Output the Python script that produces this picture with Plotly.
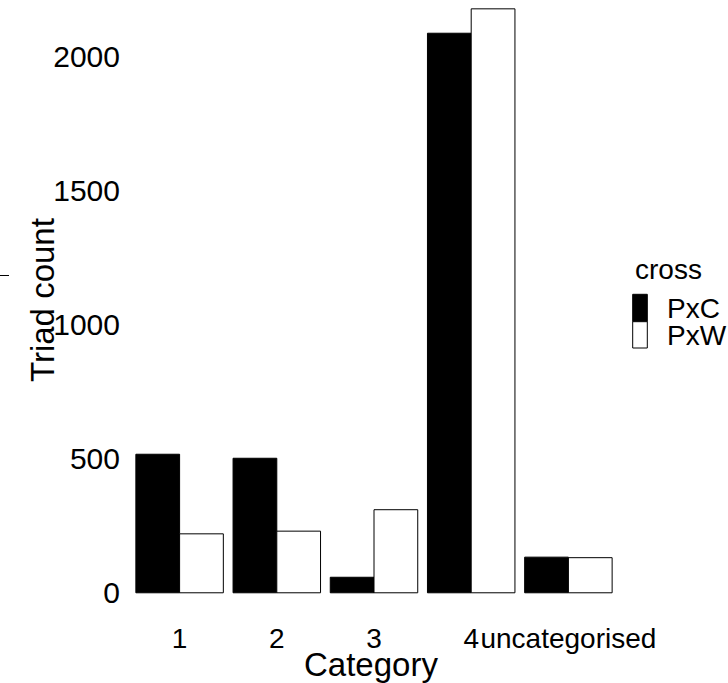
import plotly.graph_objects as go

# Triad counts per category for each cross
categories = ["1", "2", "3", "4", "uncategorised"]
pxc_counts = [517, 502, 58, 2088, 133]
pxw_counts = [220, 230, 310, 2179, 131]
y_ticks = [0, 500, 1000, 1500, 2000]

FONT = "Liberation Sans, Arial, Helvetica, sans-serif"

W, H = 728, 683
ML, MR, MT, MB = 131, 111, 0, 61
PW = W - ML - MR
PH = H - MT - MB


def px_x(px):
    return (px - ML) / PW


def px_y(py):
    return 1 - (py - MT) / PH


fig = go.Figure()
fig.add_trace(go.Bar(
    x=categories, y=pxc_counts, name="PxC",
    marker=dict(color="black", line=dict(color="black", width=1)),
    showlegend=False,
))
fig.add_trace(go.Bar(
    x=categories, y=pxw_counts, name="PxW",
    marker=dict(color="white", line=dict(color="black", width=1)),
    showlegend=False,
))

shapes = []
annotations = []

# legend: title, keys and labels
annotations.append(dict(
    x=px_x(633), y=px_y(269.5), xref="paper", yref="paper",
    text="cross", showarrow=False, xanchor="left", yanchor="middle",
    font=dict(family=FONT, size=28, color="black"),
))
legend_items = [("PxC", "black", 294.3, 321.7, 308.6),
                ("PxW", "white", 321.7, 348.0, 335.6)]
for label, fill, top, bottom, mid in legend_items:
    shapes.append(dict(
        type="rect", xref="paper", yref="paper",
        x0=px_x(632.7), x1=px_x(647.3), y0=px_y(bottom), y1=px_y(top),
        fillcolor=fill, line=dict(color="black", width=1),
    ))
    annotations.append(dict(
        x=px_x(665), y=px_y(mid), xref="paper", yref="paper",
        text=label, showarrow=False, xanchor="left", yanchor="middle",
        font=dict(family=FONT, size=28, color="black"),
    ))

# axis titles
annotations.append(dict(
    x=px_x(370.5), y=px_y(664), xref="paper", yref="paper",
    text="Category", showarrow=False, xanchor="center", yanchor="middle",
    font=dict(family=FONT, size=33, color="black"),
))
annotations.append(dict(
    x=px_x(42), y=px_y(300), xref="paper", yref="paper",
    text="Triad count", showarrow=False, xanchor="center", yanchor="middle",
    textangle=-90,
    font=dict(family=FONT, size=33, color="black"),
))

# short stray rule at the left edge
shapes.append(dict(
    type="line", xref="paper", yref="paper",
    x0=px_x(0), x1=px_x(9), y0=px_y(275.5), y1=px_y(275.5),
    line=dict(color="black", width=1),
))

fig.update_layout(
    width=W, height=H,
    margin=dict(l=ML, r=MR, t=MT, b=MB, pad=0),
    barmode="group", bargap=0.1, bargroupgap=0,
    plot_bgcolor="white", paper_bgcolor="white",
    font=dict(family=FONT, size=28, color="black"),
    shapes=shapes, annotations=annotations,
    xaxis=dict(
        type="category", categoryorder="array", categoryarray=categories,
        range=[-0.5, 4.5], showgrid=False, zeroline=False, showline=False,
        ticks="", tickangle=0, ticklabelstandoff=-3,
        tickfont=dict(family=FONT, size=28, color="black"),
    ),
    yaxis=dict(
        range=[-109, 2212], tickvals=y_ticks, ticktext=[str(v) for v in y_ticks],
        showgrid=False, zeroline=False, showline=False,
        ticks="", ticklabelstandoff=10,
        tickfont=dict(family=FONT, size=30, color="black"),
    ),
)

fig.write_html("out.html")
